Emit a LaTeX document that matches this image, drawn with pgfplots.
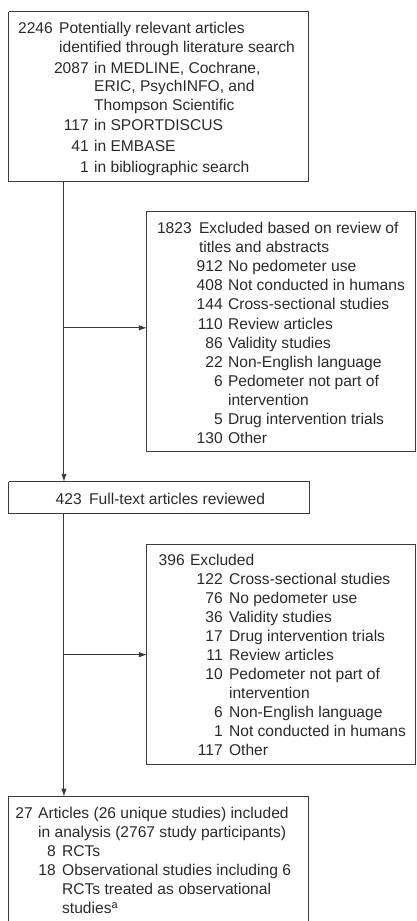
\documentclass[border=0pt]{standalone}
\usepackage{fontspec}
\setmainfont{Liberation Sans}
\usepackage{pgfplots}
\pgfplotsset{compat=1.18}
\usetikzlibrary{arrows.meta}
\definecolor{txt}{HTML}{2A2A2A}
\definecolor{ln}{HTML}{3A3A3A}
\tikzset{fc/.style={font=\fontsize{15.6pt}{18pt}\selectfont,text=txt,inner sep=0pt}}
\newcommand{\N}[3]{\node[fc,anchor=base east] at (axis cs:#1,#2) {#3};}
\newcommand{\T}[3]{\node[fc,anchor=base west] at (axis cs:#1,#2) {#3};}
\begin{document}
\begin{tikzpicture}
\begin{axis}[width=417pt,height=921pt,scale only axis,
  xmin=0,xmax=417,ymin=0,ymax=921,y dir=reverse,
  hide axis,clip=false]
\addplot[draw=none] coordinates {(0,0) (417,921)};
% boxes
\addplot[ln,line width=1pt,mark=none] coordinates {(9,12) (309,12) (309,182) (9,182) (9,12)};
\addplot[ln,line width=1pt,mark=none] coordinates {(416.5,212) (147,212) (147,452) (416.5,452)};
\addplot[ln,line width=1pt,mark=none] coordinates {(416,212) (416,452)};
\addplot[ln,line width=1pt,mark=none] coordinates {(9,482) (310,482) (310,514) (9,514) (9,482)};
\addplot[ln,line width=1pt,mark=none] coordinates {(416.5,545) (147,545) (147,765) (416.5,765)};
\addplot[ln,line width=1pt,mark=none] coordinates {(416,545) (416,765)};
\addplot[ln,line width=1pt,mark=none] coordinates {(9,921) (9,797) (309,797) (309,921)};
% connectors
\addplot[ln,line width=1pt,mark=none,-{Latex[length=8pt,width=5.5pt]}] coordinates {(64,182) (64,482)};
\addplot[ln,line width=1pt,mark=none,-{Latex[length=8pt,width=5.5pt]}] coordinates {(64,328) (147,328)};
\addplot[ln,line width=1pt,mark=none,-{Latex[length=8pt,width=5.5pt]}] coordinates {(64,514) (64,797)};
\addplot[ln,line width=1pt,mark=none,-{Latex[length=8pt,width=5.5pt]}] coordinates {(64,655) (147,655)};
% box 1
\N{53}{34}{2246}\T{59}{34}{Potentially relevant articles}
\T{59}{52.5}{identified through literature search}
\N{89}{73.5}{2087}\T{94}{73.5}{in MEDLINE, Cochrane,}
\T{94}{92}{ERIC, PsychINFO, and}
\T{94}{110.5}{Thompson Scientific}
\N{89}{131}{117}\T{94}{131}{in SPORTDISCUS}
\N{89}{152}{41}\T{94}{152}{in EMBASE}
\N{89}{172.5}{1}\T{94}{172.5}{in bibliographic search}
% box 2
\N{192}{234}{1823}\T{199}{234}{Excluded based on review of}
\T{199}{252.5}{titles and abstracts}
\N{223}{271.7}{912}\T{228}{271.7}{No pedometer use}
\N{223}{290.9}{408}\T{228}{290.9}{Not conducted in humans}
\N{223}{310.1}{144}\T{228}{310.1}{Cross-sectional studies}
\N{223}{329.3}{110}\T{228}{329.3}{Review articles}
\N{223}{348.5}{86}\T{228}{348.5}{Validity studies}
\N{223}{367.7}{22}\T{228}{367.7}{Non-English language}
\N{223}{386.9}{6}\T{228}{386.9}{Pedometer not part of}
\T{228}{405.4}{intervention}
\N{223}{424.6}{5}\T{228}{424.6}{Drug intervention trials}
\N{223}{443.8}{130}\T{228}{443.8}{Other}
% box 3
\N{82}{505}{423}\T{89}{505}{Full-text articles reviewed}
% box 4
\N{185}{566}{396}\T{190}{566}{Excluded}
\N{223}{585}{122}\T{229}{585}{Cross-sectional studies}
\N{223}{604}{76}\T{229}{604}{No pedometer use}
\N{223}{623}{36}\T{229}{623}{Validity studies}
\N{223}{642}{17}\T{229}{642}{Drug intervention trials}
\N{223}{661}{11}\T{229}{661}{Review articles}
\N{223}{680}{10}\T{229}{680}{Pedometer not part of}
\T{229}{699}{intervention}
\N{223}{718}{6}\T{229}{718}{Non-English language}
\N{223}{737}{1}\T{229}{737}{Not conducted in humans}
\N{223}{756}{117}\T{229}{756}{Other}
% box 5
\N{33}{819}{27}\T{38}{819}{Articles (26 unique studies) included}
\T{38}{838}{in analysis (2767 study participants)}
\N{56}{857}{8}\T{62}{857}{RCTs}
\N{56}{876}{18}\T{62}{876}{Observational studies including 6}
\T{62}{895}{RCTs treated as observational}
\T{62}{914}{studies\textsuperscript{a}}
\end{axis}
\end{tikzpicture}
\end{document}
